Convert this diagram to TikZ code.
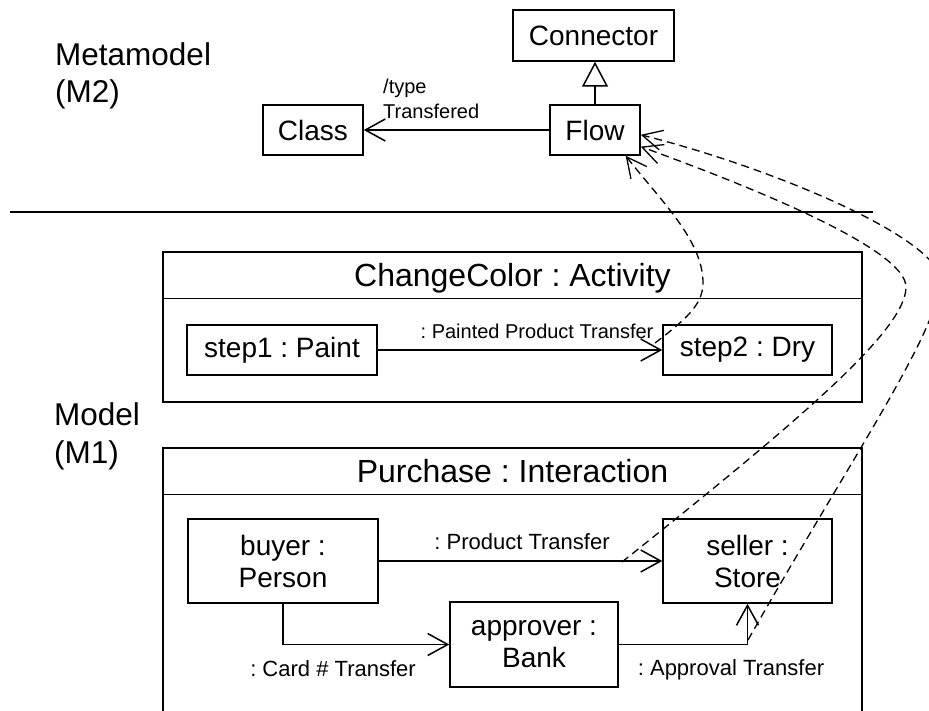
\documentclass[tikz,border=0pt]{standalone}
\usepackage{fontspec}
\setmainfont{Liberation Sans}
\usetikzlibrary{arrows.meta}
\frenchspacing
\begin{document}
\frenchspacing
\begin{tikzpicture}[x=1pt,y=-1pt,
  box/.style={draw, line width=1.5pt, inner sep=0pt, align=center, font=\fontsize{28}{32}\selectfont},
  lbl/.style={inner sep=0pt, font=\fontsize{20}{24}\selectfont},
  plbl/.style={inner sep=0pt, anchor=base, font=\fontsize{22}{26}\selectfont},
  side/.style={inner sep=0pt, anchor=base west, font=\fontsize{31.5}{36}\selectfont},
  flowline/.style={line width=1.5pt, -{Straight Barb[length=20pt,width=22pt,line width=1.5pt]}},
  trace/.style={line width=1.3pt, dash pattern=on 8pt off 5pt, -{Straight Barb[length=20pt,width=20pt,line width=1.3pt]}},
  frame/.style={draw, line width=1.5pt, inner sep=0pt},
  titletext/.style={inner sep=0pt, anchor=base, font=\fontsize{32}{38}\selectfont},
  plain/.style={line width=1.5pt}]

\useasboundingbox (0,0) rectangle (929,711);
\clip (0,0) rectangle (929,711);
\fill[white] (0,0) rectangle (929,711);

% side labels
\node[side] (mm1) at (55,66) {Metamodel};
\node[side] (mm2) at (55,103) {(M2)};
\node[side] (md1) at (54,425) {Model};
\node[side] (md2) at (54,463) {(M1)};

% metamodel
\node[box, minimum width=161pt, minimum height=51pt] (conn) at (593.5,35.5) {Connector};
\node[box, minimum width=90pt, minimum height=50pt] (flow) at (595,130) {Flow};
\node[box, minimum width=100pt, minimum height=50pt] (cls) at (313,130) {Class};
\draw[plain, -{Triangle[open,length=25pt,width=26pt,line width=1.5pt]}] (flow.north) -- (flow.north |- conn.south);
\draw[flowline] (flow.west) -- (cls.east);
\node[lbl, anchor=base west] (lt1) at (383,94) {/type};
\node[lbl, anchor=base west] (lt2) at (383,119) {Transfered};

% separator
\coordinate (sepL) at (10,212);
\coordinate (sepR) at (873,212);
\draw[plain] (sepL) -- (sepR);

% ChangeColor activity
\node[frame, minimum width=699pt, minimum height=150pt] (cc) at (512.5,327) {};
\node[inner sep=0pt, minimum width=699pt, minimum height=47pt, anchor=north] (cch) at (cc.north) {};
\draw[plain] (cch.south west) -- (cch.south east);
\node[titletext] (cct) at (512.5,287) {ChangeColor : Activity};
\node[box, minimum width=190pt, minimum height=50pt] (s1) at (282,350) {step1 : Paint};
\node[box, minimum width=169pt, minimum height=50pt] (s2) at (747.5,350) {step2 : Dry};
\draw[flowline] (s1) -- (s2);
\node[lbl, anchor=base] (ppt) at (537,338) {: Painted Product Transfer};

% Purchase interaction
\node[frame, minimum width=699pt, minimum height=300pt, anchor=north] (pu) at (512.5,447) {};
\node[inner sep=0pt, minimum width=699pt, minimum height=47pt, anchor=north] (puh) at (pu.north) {};
\draw[plain] (puh.south west) -- (puh.south east);
\node[titletext] (put) at (512.5,482) {Purchase : Interaction};
\node[box, minimum width=190pt, minimum height=84pt] (buyer) at (283,561) {buyer :\\Person};
\node[box, minimum width=169pt, minimum height=84pt] (seller) at (747.5,561) {seller :\\Store};
\node[box, minimum width=168pt, minimum height=85pt] (appr) at (534,644.5) {approver :\\Bank};
\draw[flowline] (buyer) -- (seller);
\draw[flowline] (buyer.south) |- (appr.west);
\draw[flowline] (appr.east) -| (seller.south);
\node[plbl] (lpt) at (522,549) {: Product Transfer};
\node[plbl] (lct) at (333,676) {: Card \# Transfer};
\node[plbl] (lat) at (731,675) {: Approval Transfer};

% traces to Flow
\coordinate (t1) at (655,343);
\coordinate (t2) at (622,562);
\coordinate (t3) at (748,640);
\draw[trace] (t1) .. controls (685,320) and (703,305) .. (703,283) .. controls (703,240) and (660,200) .. (flow.-40);
\draw[trace] (t2) .. controls (800,420) and (906,330) .. (906,287) .. controls (906,250) and (760,190) .. (flow.-20);
\draw[trace] (t3) .. controls (850,460) and (940,330) .. (940,280) .. controls (940,240) and (780,170) .. (flow.-6);
\end{tikzpicture}
\end{document}
